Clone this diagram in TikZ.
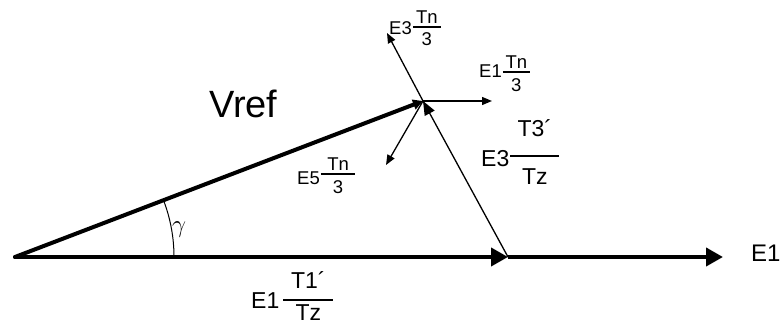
\documentclass[tikz,border=0pt]{standalone}
\usepackage{fontspec}
\setmainfont{Liberation Sans}
\usetikzlibrary{arrows.meta}
\newsavebox\fnumbox
\newsavebox\fdenbox
\newlength\fwid
% #1 numerator, #2 denominator, #3 side pad, #4 gap above bar, #5 gap below bar, #6 bar height above baseline
\newcommand\myfrac[6]{%
  \sbox\fnumbox{#1}\sbox\fdenbox{#2}%
  \ifdim\wd\fnumbox>\wd\fdenbox \setlength\fwid{\wd\fnumbox}\else\setlength\fwid{\wd\fdenbox}\fi
  \addtolength\fwid{#3}\addtolength\fwid{#3}%
  \raisebox{#6}{%
    \rlap{\raisebox{\dimexpr#4+0.6pt\relax}{\makebox[\fwid]{\usebox\fnumbox}}}%
    \rlap{\raisebox{-\dimexpr#5+0.6pt+\ht\fdenbox\relax}{\makebox[\fwid]{\usebox\fdenbox}}}%
    \rule[-0.6pt]{\fwid}{1.2pt}}}
\begin{document}
\begin{tikzpicture}[x=1pt,y=1pt,
  thickvec/.style={line width=4pt},
  bighead/.style={-{Triangle[length=17pt,width=18pt]}},
  thinvec/.style={line width=1.3pt,-{Triangle[length=10pt,width=8pt]}},
  big/.style={font=\fontsize{23}{27}\selectfont,inner sep=0pt},
  small/.style={font=\fontsize{18.5}{22}\selectfont,inner sep=0pt},
  huge/.style={font=\fontsize{38}{44}\selectfont,inner sep=0pt}]
\useasboundingbox (0,0) rectangle (780,327);
\coordinate (O) at (15,70);
\coordinate (P) at (508,70);
\coordinate (Q) at (723,70);
\coordinate (V) at (423,226);
\coordinate (A1) at (492,226);
\coordinate (A3) at (387,294);
\coordinate (A5) at (386,162);
% thick vectors
\draw[thickvec,line cap=round,bighead] (O) -- (P);
\draw[thickvec,bighead] (P) -- (Q);
\draw[thickvec,line cap=round,-{Triangle[length=10pt,width=10pt]}] (O) -- (V);
% angle arc
\draw[line width=1pt] ([shift={(0:159)}]O) arc[start angle=0,end angle=20.5,radius=159];
% thin vectors
\draw[thinvec,-{Triangle[length=14pt,width=11pt]}] (P) -- (V);
\draw[thinvec] (V) -- (A1);
\draw[thinvec] (V) -- (A3);
\draw[thinvec] (V) -- (A5);
% labels
\node[huge,anchor=base west] (vref) at (209,209) {Vref};
\node[font=\fontsize{26}{30}\selectfont,inner sep=0pt] (gam) at (179,97) {$\gamma$};
\node[big,anchor=base west] (l1) at (251,18) {E1\kern4pt\myfrac{T1´}{Tz}{7.7pt}{11pt}{4pt}{9pt}};
\node[big,anchor=base west] (l3) at (481,160) {E3\kern1pt\myfrac{T3´}{Tz}{7.2pt}{19pt}{12pt}{11pt}};
\node[small,anchor=base west] (s5) at (297,142) {E5\kern1pt\myfrac{Tn}{3}{6.5pt}{3pt}{6pt}{11pt}};
\node[small,anchor=base west] (s3) at (389,292) {E3\kern1pt\myfrac{Tn}{3}{3.2pt}{3pt}{5pt}{8pt}};
\node[small,anchor=base west] (s1) at (479,249) {E1\kern1pt\myfrac{Tn}{3}{2.7pt}{3pt}{6pt}{6pt}};
\node[font=\fontsize{24}{28}\selectfont,inner sep=0pt,anchor=base west] (e1) at (751,65) {E1};
\end{tikzpicture}
\end{document}
